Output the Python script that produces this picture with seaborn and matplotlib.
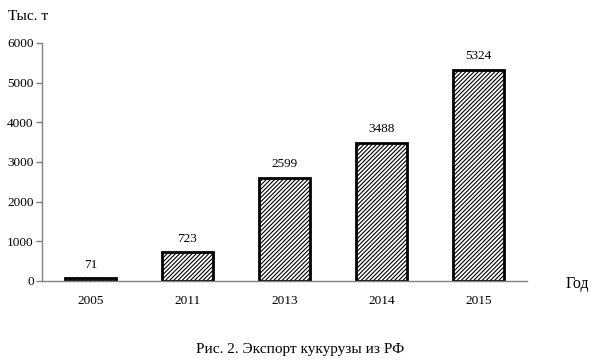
import matplotlib
matplotlib.use("Agg")
import matplotlib.pyplot as plt
import seaborn as sns
import pandas as pd
import numpy as np

years = ["2005", "2011", "2013", "2014", "2015"]
export = [71, 723, 2599, 3488, 5324]
yticks = [0, 1000, 2000, 3000, 4000, 5000, 6000]

sns.set_style("white")
plt.rcParams['font.family'] = ['Liberation Serif', 'DejaVu Serif']
plt.rcParams['hatch.linewidth'] = 0.8
plt.rcParams['text.color'] = 'black'
plt.rcParams['xtick.color'] = 'black'
plt.rcParams['ytick.color'] = 'black'

df = pd.DataFrame({"year": years, "value": export})

fig = plt.figure(figsize=(5.95, 3.63), dpi=100)
ax = fig.add_axes([0.0706, 0.226, 0.815, 0.656])
sns.barplot(data=df, x="year", y="value", color="white", edgecolor="black",
            linewidth=2, width=0.52, ax=ax, saturation=1)
for p in ax.patches:
    p.set_hatch("////////")
    p.set_facecolor("white")

for i, v in enumerate(export):
    ax.text(i, v + 190, str(v), ha="center", va="bottom", fontsize=9.5, color="black")

ax.set_xlim(-0.5, 4.5)
ax.set_ylim(0, 6000)
ax.set_yticks(yticks)
ax.set_yticklabels([str(t) for t in yticks], fontsize=9.5)
ax.set_xticks(range(len(years)))
ax.set_xticklabels(years, fontsize=9.5)
ax.set_xticks(np.arange(-0.5, len(years)), minor=True)
ax.tick_params(axis="x", which="major", length=0, pad=10, labelcolor="black")
ax.tick_params(axis="x", which="minor", length=4, color="#808080", width=1, direction="out")
ax.tick_params(axis="y", which="major", length=4, color="#808080", width=1, direction="out", left=True, pad=2, labelcolor="black")
ax.set_xlabel("")
ax.set_ylabel("")
for s in ["top", "right"]:
    ax.spines[s].set_visible(False)
for s in ["left", "bottom"]:
    ax.spines[s].set_color("#808080")
    ax.spines[s].set_linewidth(1)

fig.text(8/595, 1 - 17/363, "Тыс. т", fontsize=11, ha="left", va="center", color="black")
fig.text(566/595, 1 - 284/363, "Год", fontsize=11.5, ha="left", va="center", color="black")
fig.text(300/595, 1 - 350/363, "Рис. 2. Экспорт кукурузы из РФ", fontsize=11, ha="center", va="center", color="black")

fig.savefig("out.png", dpi=100)
